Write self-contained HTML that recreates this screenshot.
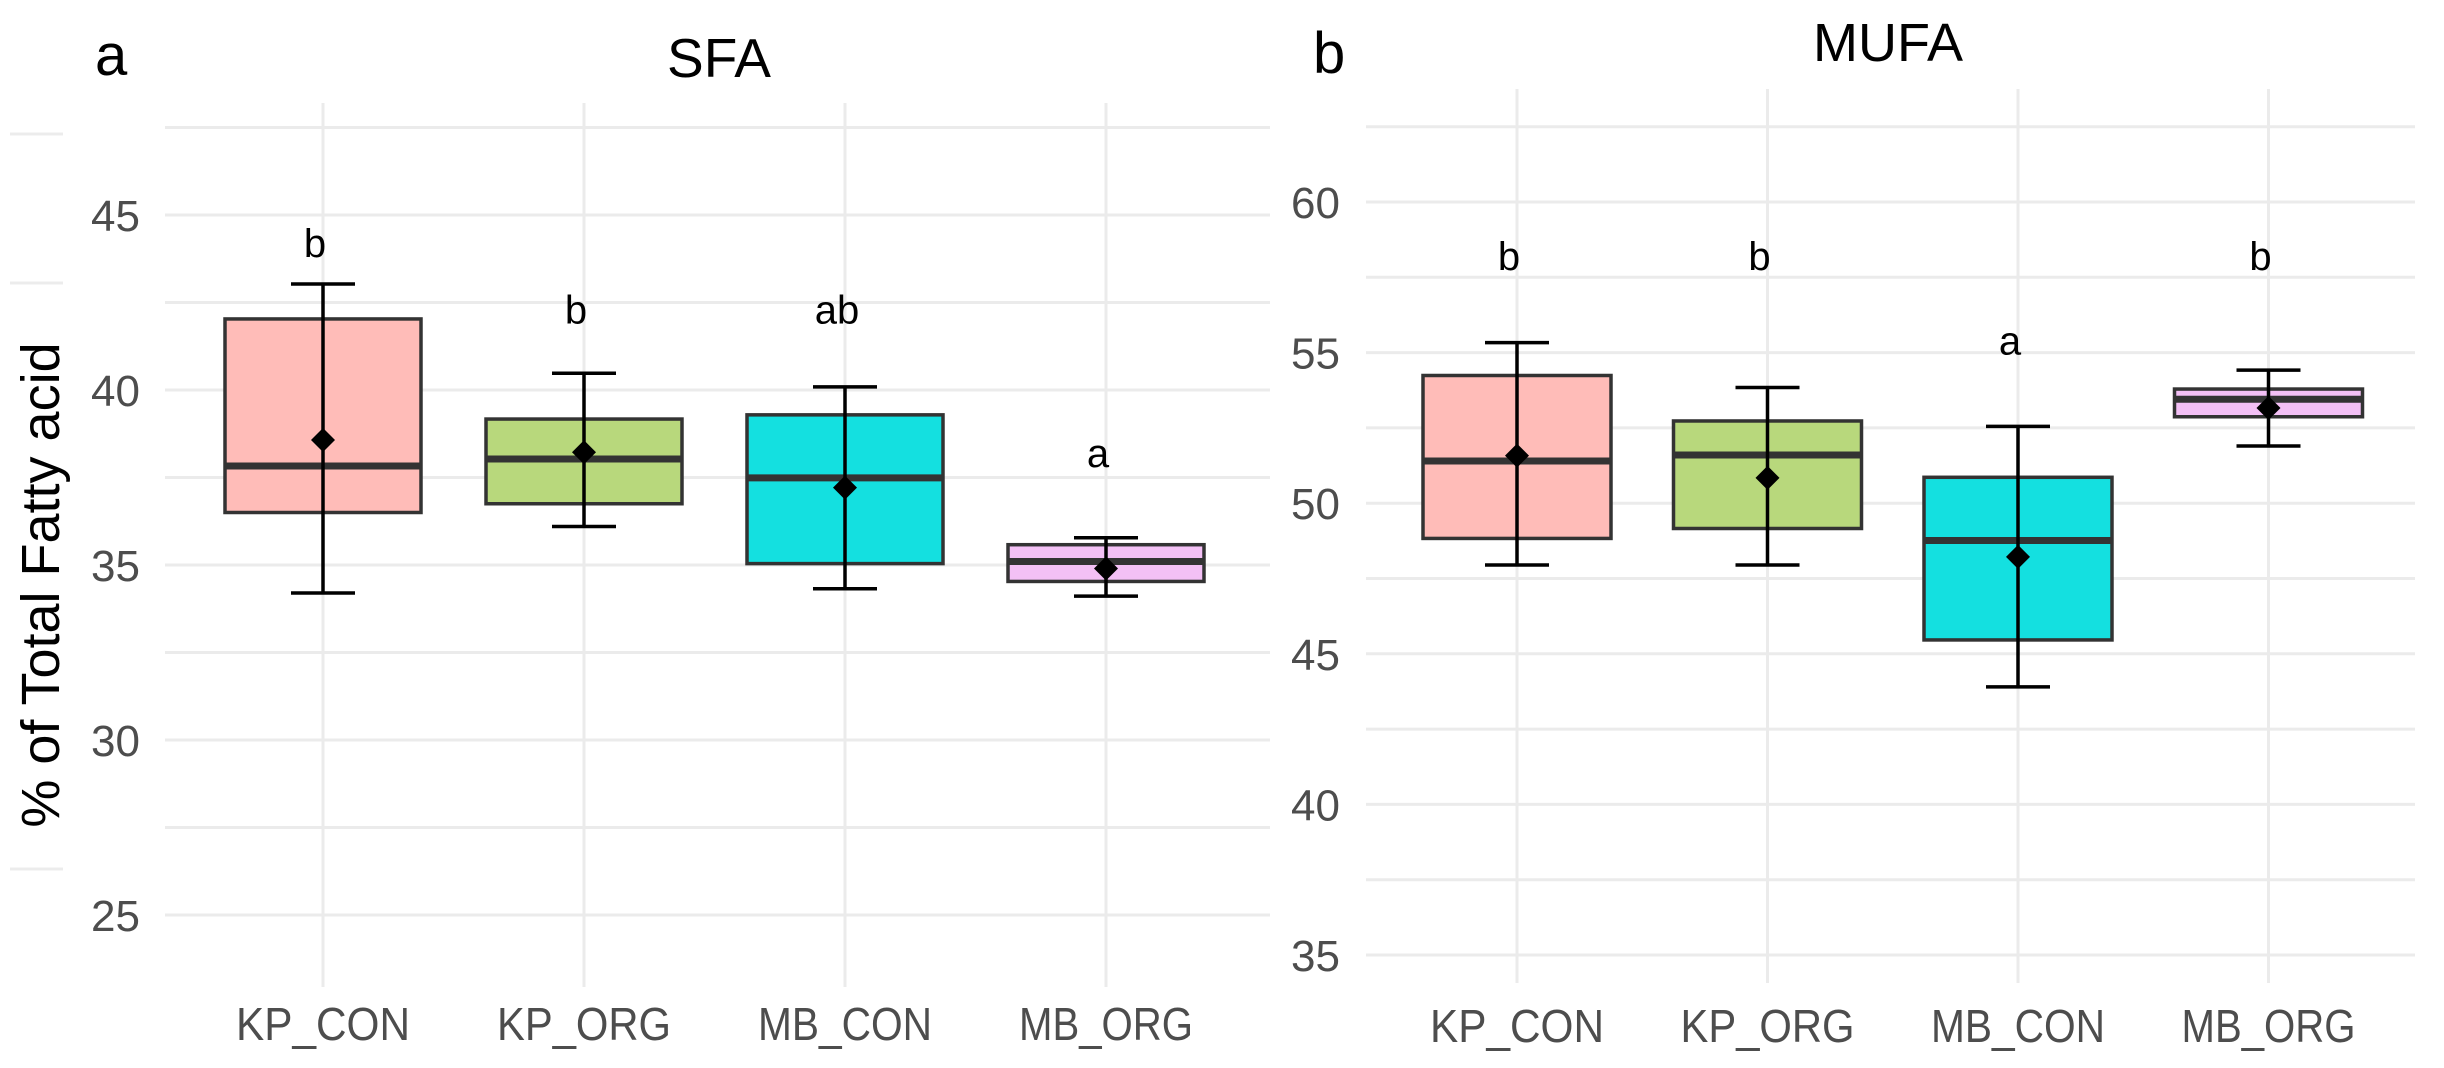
<!DOCTYPE html>
<html><head><meta charset="utf-8">
<style>
html,body{margin:0;padding:0;background:#fff;}
svg{display:block;}
text{font-family:"Liberation Sans",Arial,sans-serif;}
</style></head>
<body>
<svg id="chart" width="2444" height="1068" viewBox="0 0 2444 1068" xmlns="http://www.w3.org/2000/svg">
<rect x="0" y="0" width="2444" height="1068" fill="#fff"/>
<g id="stubs" stroke="#ececec" stroke-width="3">
<line x1="10" x2="63" y1="134" y2="134"/>
<line x1="10" x2="63" y1="283" y2="283"/>
<line x1="10" x2="63" y1="869" y2="869"/>
</g>
<g id="panelA"></g>
<g id="panelB"></g>
<text x="40" y="604" font-size="54" fill="#000" text-anchor="middle" transform="rotate(-90 40 585)">% of Total Fatty acid</text>
<text x="95" y="75" font-size="58" fill="#000">a</text>
<text x="719" y="77" font-size="55" fill="#000" text-anchor="middle">SFA</text>
<text x="1313" y="73" font-size="58" fill="#000">b</text>
<text x="1888" y="61" font-size="54" fill="#000" text-anchor="middle">MUFA</text>
</svg>
<script>
const categories = ["KP_CON","KP_ORG","MB_CON","MB_ORG"];
const colors = ["#ffbcb8","#b8d87c","#14e0e0","#f3c0f5"];
// SFA
const sfaQ1 = [36.5, 36.75, 35.04, 34.53];
const sfaMedian = [37.83, 38.03, 37.49, 35.1];
const sfaQ3 = [42.03, 39.17, 39.29, 35.58];
const sfaLow = [34.2, 36.1, 34.32, 34.11];
const sfaHigh = [43.03, 40.48, 40.09, 35.78];
const sfaMean = [38.57, 38.22, 37.21, 34.9];
const sfaLetters = ["b","b","ab","a"];
const sfaLetterPos = [44.2, 42.3, 42.3, 38.2];
const sfaTicks = [25, 30, 35, 40, 45];
// MUFA
const mufaQ1 = [48.83, 49.16, 45.46, 52.87];
const mufaMedian = [51.4, 51.6, 48.76, 53.45];
const mufaQ3 = [54.24, 52.73, 50.86, 53.79];
const mufaLow = [47.95, 47.95, 43.9, 51.9];
const mufaHigh = [55.33, 53.84, 52.55, 54.42];
const mufaMean = [51.58, 50.84, 48.22, 53.16];
const mufaLetters = ["b","b","a","b"];
const mufaLetterPos = [58.2, 58.2, 55.4, 58.2];
const mufaTicks = [35, 40, 45, 50, 55, 60];

const NS = "http://www.w3.org/2000/svg";
function mk(parent, tag, attrs){
  const e = document.createElementNS(NS, tag);
  for (const k in attrs) e.setAttribute(k, attrs[k]);
  parent.appendChild(e);
  return e;
}

function drawPanel(g, cfg, q1, med, q3, lo, hi, mean, letters, letterPos, ticks){
  const y = v => cfg.y0 + (cfg.v0 - v) * cfg.unit;
  const x = i => cfg.x0 + i * cfg.step;
  for (let v = cfg.vmin; v <= cfg.vmax + 0.01; v += 2.5) {
    const ln = mk(g, "line", {x1: cfg.gx1, x2: cfg.gx2, y1: y(v), y2: y(v), stroke: "#ebebeb", "stroke-width": 3});
    
    
  }
  categories.forEach((c, i) => {
    const ln = mk(g, "line", {x1: x(i), x2: x(i), y1: cfg.vy1, y2: cfg.vy2, stroke: "#ebebeb", "stroke-width": 3});
    
    
  });
  ticks.forEach(t => {
    const tx = mk(g, "text", {x: cfg.tickX, y: y(t) + 16, "font-size": 44, fill: "#4d4d4d", "text-anchor": "end"});
    tx.textContent = t;
    
    
  });
  categories.forEach((c, i) => {
    const cx = x(i);
    const box = mk(g, "rect", {x: cx - cfg.half, y: y(q3[i]), width: cfg.half * 2, height: y(q1[i]) - y(q3[i]), fill: colors[i], stroke: "#333", "stroke-width": 3.5});
    
    
    const md = mk(g, "line", {x1: cx - cfg.half, x2: cx + cfg.half, y1: y(med[i]), y2: y(med[i]), stroke: "#333", "stroke-width": 7});
    
    
    const wk = mk(g, "line", {x1: cx, x2: cx, y1: y(hi[i]), y2: y(lo[i]), stroke: "#000", "stroke-width": 3.5});
    
    
    [hi[i], lo[i]].forEach(v => {
      const cap = mk(g, "line", {x1: cx - 32, x2: cx + 32, y1: y(v), y2: y(v), stroke: "#000", "stroke-width": 3.5});
      
      
    });
    const my = y(mean[i]);
    const dm = mk(g, "polygon", {points: `${cx},${my-12} ${cx+12},${my} ${cx},${my+12} ${cx-12},${my}`, fill: "#000"});
    
    
    const lt = mk(g, "text", {x: cx - 8, y: y(letterPos[i]) + 14, "font-size": 40, fill: "#000", "text-anchor": "middle"});
    lt.textContent = letters[i];
    
    
    const xl = mk(g, "text", {x: cx, y: cfg.labelY, "font-size": 46, fill: "#4d4d4d", "text-anchor": "middle", textLength: 174, lengthAdjust: "spacingAndGlyphs"});
    xl.textContent = c;
    
    
  });
}

drawPanel(document.getElementById('panelA'),
  {y0: 215, v0: 45, unit: 35, x0: 323, step: 261, half: 98, gx1: 165, gx2: 1270, vy1: 103, vy2: 987, vmin: 25, vmax: 47.5, tickX: 140, labelY: 1040},
  sfaQ1, sfaMedian, sfaQ3, sfaLow, sfaHigh, sfaMean, sfaLetters, sfaLetterPos, sfaTicks);
drawPanel(document.getElementById('panelB'),
  {y0: 202, v0: 60, unit: 30.12, x0: 1517, step: 250.5, half: 94, gx1: 1366, gx2: 2415, vy1: 89, vy2: 983, vmin: 35, vmax: 62.5, tickX: 1340, labelY: 1042},
  mufaQ1, mufaMedian, mufaQ3, mufaLow, mufaHigh, mufaMean, mufaLetters, mufaLetterPos, mufaTicks);
</script>
</body></html>
